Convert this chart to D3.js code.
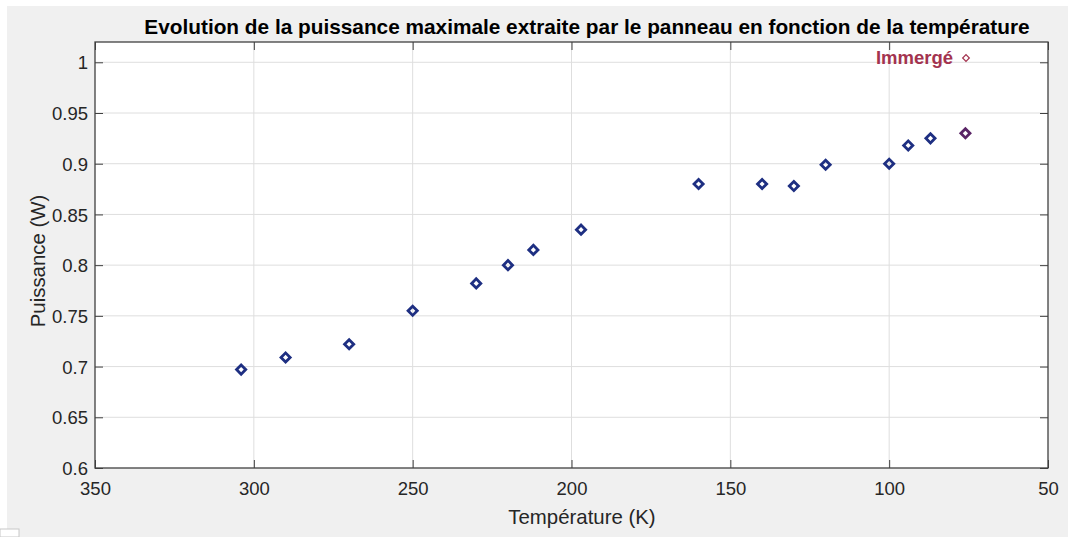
<!DOCTYPE html>
<html>
<head>
<meta charset="utf-8">
<script src="https://cdn.jsdelivr.net/npm/d3@7"></script>
<style>
  html, body { margin: 0; padding: 0; background: #ffffff; }
  svg { display: block; }
  text { font-family: "Liberation Sans", Arial, Helvetica, sans-serif; }
</style>
</head>
<body>
<svg id="chart" width="1068" height="537"></svg>
<script>
// ---- data ----
const temperatures = [304, 290, 270, 250, 230, 220, 212, 197, 160, 140, 130, 120, 100, 94, 87];
const puissances   = [0.697, 0.709, 0.722, 0.755, 0.782, 0.800, 0.815, 0.835, 0.880, 0.880, 0.878, 0.899, 0.900, 0.918, 0.925];
const immergeTemperature = [76];
const immergePuissance   = [0.930];
const xTicks = [350, 300, 250, 200, 150, 100, 50];
const yTicks = [0.6, 0.65, 0.7, 0.75, 0.8, 0.85, 0.9, 0.95, 1];
const titleText = "Evolution de la puissance maximale extraite par le panneau en fonction de la température";
const xLabel = "Température (K)";
const yLabel = "Puissance (W)";
const legendLabel = "Immergé";

// ---- layout ----
const W = 1068, H = 537;
const plot = { left: 95, right: 1048, top: 42, bottom: 468 };
const svg = d3.select("#chart");

// figure background
svg.append("rect").attr("x", 0).attr("y", 0).attr("width", W).attr("height", H).attr("fill", "#ffffff");
svg.append("rect").attr("x", 7).attr("y", 6).attr("width", W - 7).attr("height", H - 6).attr("fill", "#f0f0f0");
svg.append("rect").attr("x", 0).attr("y", 529).attr("width", 19).attr("height", 8).attr("fill", "#ffffff").attr("stroke", "#c8c8c8").attr("stroke-width", 1);

const x = d3.scaleLinear().domain([350, 50]).range([plot.left, plot.right]);
const y = d3.scaleLinear().domain([0.6, 1.02]).range([plot.bottom, plot.top]);

// plot background
svg.append("rect").attr("x", plot.left).attr("y", plot.top)
  .attr("width", plot.right - plot.left).attr("height", plot.bottom - plot.top)
  .attr("fill", "#ffffff");

// grid
const grid = svg.append("g");
grid.selectAll("line.gx").data(xTicks.filter(t => t !== 350 && t !== 50)).join("line")
  .attr("x1", d => x(d)).attr("x2", d => x(d))
  .attr("y1", plot.top).attr("y2", plot.bottom)
  .attr("stroke", "#dedede").attr("stroke-width", 1);
grid.selectAll("line.gy").data(yTicks.filter(t => t !== 0.6)).join("line")
  .attr("y1", d => y(d)).attr("y2", d => y(d))
  .attr("x1", plot.left).attr("x2", plot.right)
  .attr("stroke", "#dedede").attr("stroke-width", 1);

const fmtY = d => d3.format("")(+d.toFixed(2));
const tickFont = "18.5px";
const axisColor = "#404040";
const textColor = "#262626";

// bottom axis
const xAxis = svg.append("g").attr("transform", `translate(0,${plot.bottom})`)
  .call(d3.axisBottom(x).tickValues(xTicks).tickSizeInner(-8).tickSizeOuter(0).tickPadding(14).tickFormat(d3.format("d")));
// top axis (ticks only)
const xAxisTop = svg.append("g").attr("transform", `translate(0,${plot.top})`)
  .call(d3.axisTop(x).tickValues(xTicks).tickSizeInner(-8).tickSizeOuter(0).tickFormat(""));
// left axis
const yAxis = svg.append("g").attr("transform", `translate(${plot.left},0)`)
  .call(d3.axisLeft(y).tickValues(yTicks).tickSizeInner(-8).tickSizeOuter(0).tickPadding(7).tickFormat(fmtY));
// right axis (ticks only)
const yAxisRight = svg.append("g").attr("transform", `translate(${plot.right},0)`)
  .call(d3.axisRight(y).tickValues(yTicks).tickSizeInner(-8).tickSizeOuter(0).tickFormat(""));

[xAxis, xAxisTop, yAxis, yAxisRight].forEach(g => {
  g.select(".domain").remove();
  g.selectAll(".tick line").attr("stroke", axisColor).attr("stroke-width", 1);
  g.selectAll(".tick text").attr("fill", textColor).style("font-size", tickFont);
});
xAxis.selectAll(".tick text").attr("dy", "0.71em").attr("y", 14);
yAxis.selectAll(".tick text").attr("dy", "0.36em");

// box
svg.append("rect").attr("x", plot.left).attr("y", plot.top)
  .attr("width", plot.right - plot.left).attr("height", plot.bottom - plot.top)
  .attr("fill", "none").attr("stroke", axisColor).attr("stroke-width", 1.3);

// markers
const diamond = d3.symbol().type(d3.symbolSquare).size(42);
svg.append("g").selectAll("path").data(temperatures.map((t, i) => [t, puissances[i]])).join("path")
  .attr("d", diamond)
  .attr("transform", d => `translate(${x(d[0])},${y(d[1])}) rotate(45)`)
  .attr("fill", "none").attr("stroke", "#1e2f82").attr("stroke-width", 2.8);
svg.append("g").selectAll("path").data(immergeTemperature.map((t, i) => [t, immergePuissance[i]])).join("path")
  .attr("d", diamond)
  .attr("transform", d => `translate(${x(d[0])},${y(d[1])}) rotate(45)`)
  .attr("fill", "none").attr("stroke", "#5a2466").attr("stroke-width", 2.8);

// legend
const legendColor = "#a3334f";
svg.append("text").attr("x", 953).attr("y", 64).attr("text-anchor", "end")
  .attr("fill", legendColor).style("font-size", "18.5px").style("font-weight", "bold")
  .text(legendLabel);
svg.append("path").attr("d", d3.symbol().type(d3.symbolSquare).size(22))
  .attr("transform", `translate(966,58) rotate(45)`)
  .attr("fill", "none").attr("stroke", legendColor).attr("stroke-width", 1.2);

// title
svg.append("text").attr("x", 587).attr("y", 34).attr("text-anchor", "middle")
  .attr("fill", "#000000").style("font-size", "20.8px").style("font-weight", "bold")
  .text(titleText);

// axis labels
svg.append("text").attr("x", 582).attr("y", 524).attr("text-anchor", "middle")
  .attr("fill", textColor).style("font-size", "20.4px").text(xLabel);
svg.append("text").attr("transform", `translate(45,261) rotate(-90)`).attr("text-anchor", "middle")
  .attr("fill", textColor).style("font-size", "20.4px").text(yLabel);
</script>
</body>
</html>
